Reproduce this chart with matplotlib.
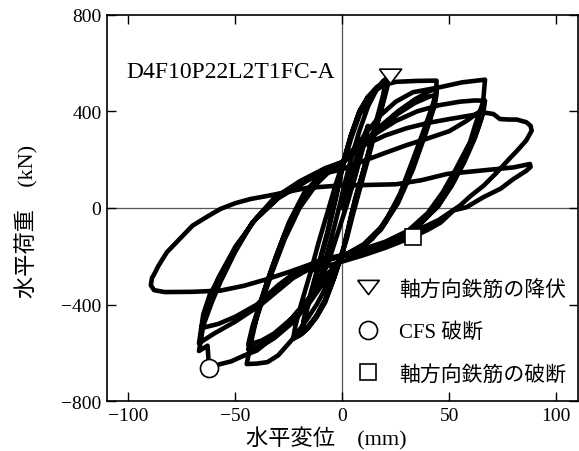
import numpy as np
import matplotlib
matplotlib.use("Agg")
import matplotlib.pyplot as plt
from matplotlib.lines import Line2D

plt.rcParams['font.family'] = ['Liberation Serif', 'Noto Sans CJK JP']
plt.rcParams['axes.unicode_minus'] = True

# ---- load-displacement history (displacement mm, load kN) ----
# pre-yield cycle
disp_pre = [0, 4, 8, 12, 10, 6, 2, -2, -6, -10, -12, -9, -5, -1, 0]
load_pre = [0, 130, 250, 340, 260, 130, 10, -100, -210, -300, -340, -250, -120, 20, 60]

# cycles at the yield displacement
disp_1dy = [4, 8, 12, 16, 19, 22,
            21, 18, 14, 10, 6, 3, 0,
            -4, -8, -12, -16, -20, -23,
            -22, -19, -15, -11, -7, -3, 0,
            4, 8, 12, 16, 19, 21,
            20, 17, 13, 9, 5, 2, 0,
            -4, -8, -12, -16, -19,
            -18, -15, -11, -7, -3, 0,
            4, 8, 12, 16, 20,
            19, 16, 12, 8, 4, 1, 0,
            -4, -8, -12, -16, -19,
            -18, -15, -11, -7, -3, 0]
load_1dy = [200, 320, 420, 490, 525, 545,
            500, 400, 280, 160, 40, -80, -190,
            -290, -380, -445, -495, -528, -542,
            -490, -390, -270, -140, -20, 100, 180,
            300, 400, 460, 500, 518, 524,
            475, 370, 235, 105, -25, -130, -185,
            -295, -390, -452, -497, -522,
            -470, -370, -240, -110, 40, 165,
            285, 385, 448, 490, 512,
            465, 365, 225, 95, -35, -150, -180,
            -290, -380, -445, -490, -510,
            -460, -360, -230, -100, 50, 170]

# cycles at twice the yield displacement
disp_2dy = [4, 8, 12, 18, 25, 35, 44,
            44, 42, 38, 33, 27, 20, 14, 8, 0,
            -6, -12, -18, -24, -30, -35, -40, -44.7,
            -43, -40, -36, -31, -25, -18, -10, -4, 0,
            4, 10, 18, 26, 34, 41, 44,
            43, 39, 33, 26, 18, 10, 0,
            -8, -16, -24, -32, -38, -44,
            -42, -38, -33, -27, -20, -12, -5, 0,
            4, 10, 18, 26, 34, 41, 44,
            43, 39, 33, 26, 18, 10, 0,
            -8, -16, -24, -32, -38, -44,
            -42, -38, -33, -27, -20, -12, -5, 0]
load_2dy = [300, 400, 460, 505, 522, 526, 527,
            480, 420, 320, 200, 60, -60, -128, -170, -200,
            -300, -400, -480, -550, -610, -638, -644, -646,
            -570, -450, -330, -200, -60, 60, 140, 175, 190,
            230, 273, 340, 400, 450, 485, 492,
            430, 320, 170, 30, -80, -150, -200,
            -300, -400, -480, -540, -570, -585,
            -510, -400, -270, -130, 0, 100, 160, 185,
            225, 265, 330, 390, 435, 462, 468,
            420, 310, 160, 20, -90, -155, -200,
            -290, -380, -460, -520, -550, -565,
            -490, -380, -250, -110, 10, 110, 165, 190]

# cycles at three times the yield displacement
disp_3dy = [6.7, 12, 17.6, 25, 33, 45.7, 56, 66.7,
            65.8, 62, 59.7, 53, 47, 40, 30, 20, 10, 0,
            -10, -20, -30, -40, -46, -52, -57, -62.3, -63, -67,
            -65, -61, -57, -50, -42, -32, -20, -8, 0,
            8, 16, 25, 35, 45, 55, 62, 66.7,
            66, 63, 58, 52, 45, 35, 22, 10, 0,
            -12, -23, -38, -50, -60, -64, -67,
            -66, -63, -58, -50, -40, -28, -15, 0,
            10, 20, 30, 40, 50, 58, 63, 66,
            65, 62, 57, 51, 44, 34, 20, 8, 0,
            -10, -21, -30, -40, -50, -58, -64, -66,
            -65, -62, -57, -50, -42, -30, -15, 0]
load_3dy = [258, 320, 382, 440, 479, 500, 520, 531,
            439, 340, 273, 160, 66, -20, -100, -150, -180, -200,
            -310, -420, -520, -590, -611, -635, -646, -662, -570, -592,
            -487, -390, -306, -180, -60, 40, 110, 165, 190,
            250, 310, 360, 400, 425, 440, 445, 444,
            400, 320, 220, 110, 10, -80, -140, -180, -195,
            -235, -290, -400, -470, -520, -543, -560,
            -500, -400, -290, -160, -40, 60, 130, 160,
            195, 228, 260, 288, 318, 360, 392, 408,
            370, 290, 190, 90, 0, -80, -140, -175, -195,
            -215, -260, -320, -400, -450, -480, -493, -500,
            -440, -360, -280, -170, -60, 40, 120, 185]

# four times the yield displacement, first cycle
disp_4dy_a = [5, 9.8, 20, 30, 40, 50, 58, 64, 67, 70.6, 73.7, 78, 81.5, 86, 88, 88.5,
              86, 82, 78, 72, 66, 60, 55, 45, 33, 20, 10, 0,
              -12, -24, -35, -46, -57, -70, -83, -88, -89.5]
load_4dy_a = [225, 258, 300, 330, 352, 368, 380, 389, 394, 389, 368, 366, 366, 355, 340, 320,
              280, 240, 203, 145, 92, 50, 10, -50, -100, -150, -170, -200,
              -224, -262, -294, -322, -342, -347, -348, -340, -320]

# four times the yield displacement, second cycle and final unloading
disp_4dy_b = [-89, -88.3, -86, -82, -76, -70, -63, -57, -50, -43, -35, -24, -16.6, -2.6,
              10, 25, 37, 49, 65, 80, 87.7,
              88, 86, 80, 74, 66, 58, 52, 46, 40, 33, 20, 10, 4, -5, -15]
load_4dy_b = [-290, -280, -240, -183, -128, -73, -35, -4, 20, 37, 50, 70, 83, 92,
              95, 98, 115, 141, 155, 168, 182,
              170, 154, 120, 80, 45, 3, -10, -60, -90, -120, -165, -195, -211, -235, -260]

# damage events
yield_disp, yield_load = 22.5, 548
cfs_disp, cfs_load = -62.3, -662
rupture_disp, rupture_load = 33, -120

legend_labels = ['軸方向鉄筋の降伏', 'CFS 破断', '軸方向鉄筋の破断']
x_ticks = [-100, -50, 0, 50, 100]
y_ticks = [-800, -400, 0, 400, 800]

disp = np.concatenate([disp_pre, disp_1dy, disp_2dy, disp_3dy, disp_4dy_a, disp_4dy_b])
load = np.concatenate([load_pre, load_1dy, load_2dy, load_3dy, load_4dy_a, load_4dy_b])

fig = plt.figure(figsize=(5.79, 4.52), dpi=100)
ax = fig.add_axes([0.1848, 0.110, 0.8129, 0.8553])

ax.axhline(0, color='#555555', lw=0.9, zorder=1)
ax.axvline(0, color='#555555', lw=0.9, zorder=1)

ax.plot(disp, load, color='black', lw=3.3, solid_joinstyle='round',
        solid_capstyle='round', zorder=2)

tri = [(-1, 0.66), (1, 0.66), (0, -0.66), (-1, 0.66)]
ax.plot([yield_disp], [yield_load], linestyle='none', marker=tri, ms=16,
        mfc='white', mec='black', mew=1.2, zorder=3)
ax.plot([cfs_disp], [cfs_load], linestyle='none', marker='o', ms=13,
        mfc='white', mec='black', mew=1.2, zorder=3)
ax.plot([rupture_disp], [rupture_load], linestyle='none', marker='s', ms=11.5,
        mfc='white', mec='black', mew=1.2, zorder=3)

ax.text(-101, 542, 'D4F10P22L2T1FC-A', fontsize=17, ha='left', va='baseline')

handles = [
    Line2D([], [], linestyle='none', marker=tri, ms=15.5, mfc='white', mec='black', mew=1.2),
    Line2D([], [], linestyle='none', marker='o', ms=13, mfc='white', mec='black', mew=1.2),
    Line2D([], [], linestyle='none', marker='s', ms=11.5, mfc='white', mec='black', mew=1.2),
]
ax.legend(handles, legend_labels, loc='lower left', bbox_to_anchor=(0.514, 0.022),
          frameon=False, fontsize=15, handlelength=1.0, handletextpad=1.0,
          labelspacing=1.09, borderaxespad=0)

ax.set_xlim(-110, 110)
ax.set_ylim(-800, 800)
ax.set_xticks(x_ticks)
ax.set_yticks(y_ticks)
ax.tick_params(direction='in', length=6.5, width=1.0, top=True, right=True,
               labelsize=14, pad=4)
for s in ax.spines.values():
    s.set_linewidth(1.2)

ax.set_xlabel('水平変位　(mm)', fontsize=16)
ax.set_ylabel('水平荷重　(kN)', fontsize=16)
ax.xaxis.set_label_coords(0.465, -0.065)
ax.yaxis.set_label_coords(-0.145, 0.468)

fig.savefig('out.png', dpi=100)
